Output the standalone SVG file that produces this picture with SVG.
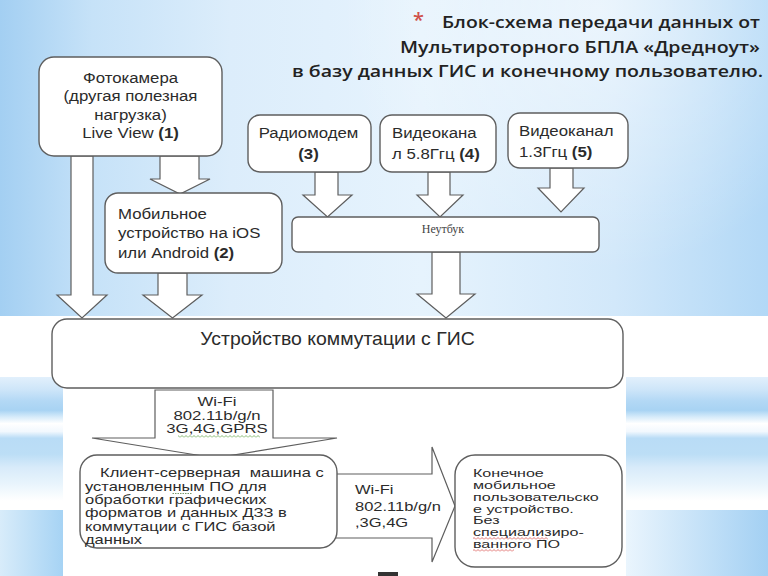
<svg xmlns="http://www.w3.org/2000/svg" width="768" height="576" viewBox="0 0 768 576">
<defs>
<linearGradient id="bgTop" x1="0" y1="0" x2="1" y2="0">
<stop offset="0" stop-color="#a3cff2"/>
<stop offset="0.12" stop-color="#c6e2f8"/>
<stop offset="0.3" stop-color="#dcedfb"/>
<stop offset="0.55" stop-color="#e6f3fd"/>
<stop offset="0.8" stop-color="#d2e8fa"/>
<stop offset="1" stop-color="#b2d8f6"/>
</linearGradient>
<radialGradient id="glow" cx="600" cy="10" r="260" gradientUnits="userSpaceOnUse">
<stop offset="0" stop-color="#ffffff" stop-opacity="0.55"/>
<stop offset="1" stop-color="#ffffff" stop-opacity="0"/>
</radialGradient>
<linearGradient id="stripe" x1="0" y1="377" x2="0" y2="510" gradientUnits="userSpaceOnUse">
<stop offset="0" stop-color="#e2f0fc"/>
<stop offset="0.09" stop-color="#cfe6f9"/>
<stop offset="0.18" stop-color="#b3d8f5"/>
<stop offset="0.25" stop-color="#a8d3f3"/>
<stop offset="0.3" stop-color="#d6ebfa"/>
<stop offset="0.35" stop-color="#ffffff"/>
<stop offset="0.41" stop-color="#f2f8fe"/>
<stop offset="0.46" stop-color="#b9dcf6"/>
<stop offset="0.58" stop-color="#bcdef6"/>
<stop offset="0.68" stop-color="#d8ebfa"/>
<stop offset="0.8" stop-color="#e8f4fc"/>
<stop offset="0.88" stop-color="#f6fbfe"/>
<stop offset="0.93" stop-color="#ffffff"/>
<stop offset="1" stop-color="#ffffff"/>
</linearGradient>
<linearGradient id="botL" x1="0" y1="0" x2="1" y2="0">
<stop offset="0" stop-color="#d8ecfa"/>
<stop offset="1" stop-color="#a6d3f4"/>
</linearGradient>
<linearGradient id="botR" x1="0" y1="0" x2="1" y2="0">
<stop offset="0" stop-color="#eaf5fd"/>
<stop offset="1" stop-color="#a3d0f3"/>
</linearGradient>
<pattern id="sqRed" x="0" y="0" width="4" height="3" patternUnits="userSpaceOnUse">
<path d="M0 2.5 L2 0.5 L4 2.5" fill="none" stroke="#d9534f" stroke-width="0.8"/>
</pattern>
<pattern id="sqGreen" x="0" y="0" width="4" height="3" patternUnits="userSpaceOnUse">
<path d="M0 2.5 L2 0.5 L4 2.5" fill="none" stroke="#6aa84f" stroke-width="0.8"/>
</pattern>
</defs>
<style>
.box{fill:#ffffff;stroke:#5e5e5e;stroke-width:1.4}
.arr{fill:#ffffff;stroke:#5e5e5e;stroke-width:1.2;stroke-linejoin:miter}
.t{font-family:"Liberation Sans",Arial,sans-serif;fill:#2b2b2b}
.tt{font-size:15px}
.tb{font-size:12.5px}
.tk{font-size:11.5px}
.b{font-weight:bold}
.title{font-family:"Open Sans","DejaVu Sans",sans-serif;font-weight:600;font-size:17px;fill:#222222}
</style>

<g id="background">
<rect x="0" y="0" width="768" height="316" fill="url(#bgTop)"/>
<rect x="0" y="0" width="768" height="316" fill="url(#glow)"/>
<rect x="0" y="316" width="768" height="72" fill="#ffffff"/>
<rect x="0" y="377" width="63" height="133" fill="url(#stripe)"/>
<rect x="626" y="377" width="142" height="133" fill="url(#stripe)"/>
<rect x="0" y="510" width="63" height="66" fill="url(#botL)"/>
<rect x="626" y="510" width="142" height="66" fill="url(#botR)"/>
<rect x="63" y="388" width="563" height="188" fill="#ffffff"/>
<rect x="378" y="572" width="20" height="4" fill="#333333"/>
</g>

<g id="title">
<text class="title" x="418.5" y="27" text-anchor="middle" style="font-size:20px;fill:#d0504a">*</text>
<text class="title" x="442" y="27.5" textLength="318" lengthAdjust="spacingAndGlyphs">Блок-схема передачи данных от</text>
<text class="title" x="400" y="53.3" textLength="360" lengthAdjust="spacingAndGlyphs">Мультироторного БПЛА «Дредноут»</text>
<text class="title" x="292" y="77.3" textLength="471" lengthAdjust="spacingAndGlyphs">в базу данных ГИС и конечному пользователю.</text>
</g>

<g id="connectors">
<path class="arr" d="M71 156 L71 295 L57 295 L82 318 L107 295 L93 295 L93 156 Z"/>
<path class="arr" d="M160 156 L160 179 L150 179 L180 194 L210 179 L199 179 L199 156 Z"/>
<path class="arr" d="M158 273 L158 295 L143 295 L172.5 318 L202 295 L187 295 L187 273 Z"/>
<path class="arr" d="M315 172 L315 195 L303 195 L327.5 217 L352 195 L338 195 L338 172 Z"/>
<path class="arr" d="M428 172 L428 195 L417 195 L440 217 L463 195 L450 195 L450 172 Z"/>
<path class="arr" d="M550 168 L550 188 L538 188 L561 212 L584 188 L573 188 L573 168 Z"/>
<path class="arr" d="M432 252 L432 294 L417 294 L446 318 L475 294 L460 294 L460 252 Z"/>
<path class="arr" d="M155 390 L273 390 L273 438 L337 438 L215 458 L92 438 L155 438 Z"/>
<path class="arr" d="M334 474 L432 474 L432 447 L455 506 L432 562 L432 538 L334 538"/>
<g transform="translate(217 0) scale(1.34 1)">
<text class="t tb" x="0" y="406" text-anchor="middle">Wi-Fi</text>
<text class="t tb" x="0" y="420" text-anchor="middle">802.11b/g/n</text>
<text class="t tb" x="0" y="433" text-anchor="middle">3G,4G,GPRS</text>
</g>
<rect x="178" y="435" width="82" height="3" fill="url(#sqGreen)"/>
<g transform="translate(355 0) scale(1.32 1)">
<text class="t tb" x="0" y="494">Wi-Fi</text>
<text class="t tb" x="0" y="511">802.11b/g/n</text>
<text class="t tb" x="0" y="527">,3G,4G</text>
</g>
</g>

<g id="node-camera">
<rect class="box" x="39" y="57" width="183" height="99" rx="15"/>
<g transform="translate(130.5 0) scale(1.12 1)">
<text class="t tt" x="0" y="83" text-anchor="middle">Фотокамера</text>
<text class="t tt" x="0" y="101.5" text-anchor="middle">(другая полезная</text>
<text class="t tt" x="0" y="120" text-anchor="middle">нагрузка)</text>
<text class="t tt" x="0" y="138.5" text-anchor="middle">Live View <tspan class="b">(1)</tspan></text>
</g>
</g>

<g id="node-mobile">
<rect class="box" x="105" y="193" width="177" height="80" rx="13"/>
<g transform="translate(118 0) scale(1.12 1)">
<text class="t tt" x="0" y="219">Мобильное</text>
<text class="t tt" x="0" y="238.5">устройство на iOS</text>
<text class="t tt" x="0" y="258">или Android <tspan class="b">(2)</tspan></text>
</g>
</g>

<g id="node-radiomodem">
<rect class="box" x="248" y="115" width="123" height="57" rx="12"/>
<g transform="translate(308.5 0) scale(1.12 1)">
<text class="t tt" x="0" y="137.7" text-anchor="middle">Радиомодем</text>
<text class="t tt b" x="0" y="159" text-anchor="middle">(3)</text>
</g>
</g>

<g id="node-video58">
<rect class="box" x="380" y="115" width="116" height="57" rx="12"/>
<g transform="translate(392 0) scale(1.12 1)">
<text class="t tt" x="0" y="137.7">Видеокана</text>
<text class="t tt" x="0" y="159">л 5.8Ггц <tspan class="b">(4)</tspan></text>
</g>
</g>

<g id="node-video13">
<rect class="box" x="508" y="113" width="120" height="55" rx="12"/>
<g transform="translate(519 0) scale(1.12 1)">
<text class="t tt" x="0" y="135.7">Видеоканал</text>
<text class="t tt" x="0" y="157">1.3Ггц <tspan class="b">(5)</tspan></text>
</g>
</g>

<g id="node-notebook">
<rect class="box" x="292" y="217" width="307" height="35" rx="6"/>
<text x="443" y="233" text-anchor="middle" style="font-family:'Liberation Serif','Times New Roman',serif;font-size:12px;fill:#444">Неутбук</text>
</g>

<g id="node-gis">
<rect class="box" x="52" y="319" width="571" height="69" rx="15"/>
<g transform="translate(337.5 0) scale(1.08 1)">
<text class="t" x="0" y="345" text-anchor="middle" style="font-size:18px">Устройство коммутации с ГИС</text>
</g>
</g>

<g id="node-server">
<rect class="box" x="80" y="455" width="257" height="93" rx="17"/>
<g transform="translate(85 0) scale(1.32 1)">
<text class="t tb" x="11.4" y="477" style="white-space:pre">Клиент-серверная  машина с</text>
<text class="t tb" x="0" y="491">установленным ПО для</text>
<text class="t tb" x="0" y="504">обработки графических</text>
<text class="t tb" x="0" y="517.5">форматов и данных ДЗЗ в</text>
<text class="t tb" x="0" y="531">коммутации с ГИС базой</text>
<text class="t tb" x="0" y="544">данных</text>
</g>
<line x1="172.5" y1="493.5" x2="191.5" y2="493.5" stroke="#6a8f5a" stroke-width="0.9" stroke-dasharray="1.5 1"/>
</g>

<g id="node-enduser">
<rect class="box" x="455" y="455" width="167" height="112" rx="20"/>
<g transform="translate(473 0) scale(1.4 1)">
<text class="t tk" x="0" y="477.5">Конечное</text>
<text class="t tk" x="0" y="489.25">мобильное</text>
<text class="t tk" x="0" y="501">пользовательско</text>
<text class="t tk" x="0" y="512.75">е устройство.</text>
<text class="t tk" x="0" y="524.5">Без</text>
<text class="t tk" x="0" y="536.25">специализиро-</text>
<text class="t tk" x="0" y="548">ванного ПО</text>
</g>
<rect x="473" y="537" width="75" height="3" fill="url(#sqRed)"/>
<rect x="473" y="549" width="41" height="3" fill="url(#sqRed)"/>
</g>
</svg>
